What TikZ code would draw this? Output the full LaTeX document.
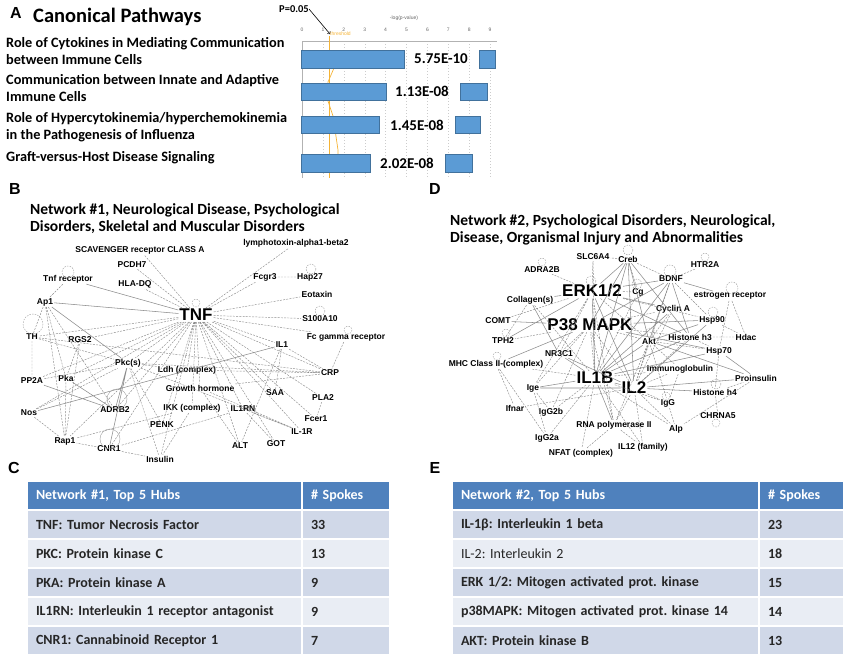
\documentclass[tikz,border=0pt]{standalone}
\usepackage{fontspec}
\setmainfont{Carlito}
\newfontfamily\arialfont{Liberation Sans}
\usetikzlibrary{positioning}
\frenchspacing

\definecolor{barblue}{HTML}{5B9BD5}
\definecolor{barline}{HTML}{41719C}
\definecolor{hdrblue}{HTML}{4F81BD}
\definecolor{rowdark}{HTML}{D0D8E8}
\definecolor{rowlight}{HTML}{E9EDF4}
\definecolor{threshcol}{HTML}{F5B335}
\definecolor{linkgray}{HTML}{8C8C8C}

\tikzset{
  panel/.style={inner sep=0pt, font=\arialfont\bfseries\fontsize{16}{16}\selectfont},
  pathname/.style={anchor=west, align=left, inner sep=0pt, font=\bfseries\fontsize{14.3}{17}\selectfont},
  pvalue/.style={inner sep=0pt, font=\bfseries\fontsize{15}{15}\selectfont},
  bar/.style={fill=barblue, draw=barline, line width=0.6pt},
  tick/.style={inner sep=0pt, text=black!60, font=\arialfont\fontsize{5}{5}\selectfont},
  nettitle/.style={anchor=west, align=left, inner sep=0pt, font=\bfseries\fontsize{15.5}{17}\selectfont},
  gene/.style={inner sep=1pt, font=\arialfont\bfseries\fontsize{8.5}{8.5}\selectfont},
  hub/.style={inner sep=1pt, font=\arialfont\bfseries\fontsize{17}{17}\selectfont},
  link/.style={draw=linkgray, line width=0.45pt, dash pattern=on 2pt off 1.2pt},
  bond/.style={draw=linkgray, line width=0.55pt},
  selfloop/.style={draw=linkgray!80, line width=0.45pt, dash pattern=on 1.5pt off 1.2pt},
  cell/.style={anchor=north west, outer sep=0pt, draw=white, line width=2.5pt, minimum height=29pt, inner xsep=9pt, align=left, font=\bfseries\fontsize{14}{14}\selectfont},
  hdr/.style={cell, fill=hdrblue, text=white},
  rowa/.style={cell, fill=rowdark, text=black!85},
  rowb/.style={cell, fill=rowlight, text=black!85},
}

\begin{document}
\begin{tikzpicture}[x=1pt,y=-1pt]
\useasboundingbox (0,0) rectangle (851,659);

% A: canonical pathways
\node[panel] (labA) at (16,13) {A};
\node[anchor=west, inner sep=0pt, font=\bfseries\fontsize{20.5}{20.5}\selectfont] (cptitle) at (33,17) {Canonical Pathways};
\node[pathname] (pw1) at (6,51.5) {Role of Cytokines in Mediating Communication\\between Immune Cells};
\node[pathname] (pw2) at (6,88) {Communication between Innate and Adaptive\\Immune Cells};
\node[pathname] (pw3) at (6,127.5) {Role of Hypercytokinemia/hyperchemokinemia\\in the Pathogenesis of Influenza};
\node[pathname] (pw4) at (6,158) {Graft-versus-Host Disease Signaling};

\node[tick] (axlab) at (404,18) {-log(p-value)};
\foreach \k in {0,...,9}
  \node[tick] (t\k) at ({302+20.9*\k},30) {\k};
\foreach \k in {1,...,9}
  \draw[black!20, dash pattern=on 1pt off 2pt] ({302+20.9*\k},41) -- ({302+20.9*\k},178);
\draw[black!30] (302,178) -- (302,41) -- (497,41);

\draw[threshcol, line width=0.6pt] (329,36) -- (329,178);
\node[anchor=west, inner sep=0pt, text=threshcol, font=\arialfont\fontsize{5}{5}\selectfont] (thr) at (330,34) {threshold};
\draw[threshcol, line width=0.7pt] (334,68) -- (328,82) -- (327,98) -- (333,116) -- (338,150) -- (338,155);

\node[inner sep=0pt, font=\bfseries\fontsize{10.5}{10.5}\selectfont] (pcut) at (294,9) {P=0.05};
\coordinate (ptip) at (330,34);
\draw[->, line width=0.6pt] (pcut.east) -- (ptip);

\draw[bar] (301,50) rectangle (404,68) (479,50) rectangle (495,68);
\node[pvalue] (pv1) at (441,59) {5.75E-10};
\draw[bar] (301,83) rectangle (386,100) (460,83) rectangle (487,100);
\node[pvalue] (pv2) at (422,91) {1.13E-08};
\draw[bar] (301,116) rectangle (379,133) (455,116) rectangle (480,133);
\node[pvalue] (pv3) at (417,125) {1.45E-08};
\draw[bar] (301,154) rectangle (370,172) (445,154) rectangle (472,172);
\node[pvalue] (pv4) at (407,163) {2.02E-08};

% B: network 1
\node[panel] (labB) at (15,189) {B};
\node[nettitle] (titB) at (30,218.5) {Network \#1, Neurological Disease, Psychological\\Disorders, Skeletal and Muscular Disorders};

\node[gene] (scav) at (140,250) {SCAVENGER receptor CLASS A};
\node[gene] (lymph) at (296,243) {lymphotoxin-alpha1-beta2};
\node[gene] (pcdh) at (132,265) {PCDH7};
\node[gene] (tnfr) at (68,279) {Tnf receptor};
\node[gene] (hla) at (135,284) {HLA-DQ};
\node[gene] (fcgr) at (265,277) {Fcgr3};
\node[gene] (hap) at (310,277) {Hap27};
\node[gene] (eot) at (317,294) {Eotaxin};
\node[gene] (apone) at (45,302) {Ap1};
\node[hub] (tnf) at (196,315) {TNF};
\node[gene] (sten) at (320,319) {S100A10};
\node[gene] (th) at (32,337) {TH};
\node[gene] (rgs) at (80,340) {RGS2};
\node[gene] (fcg) at (346,337) {Fc gamma receptor};
\node[gene] (ilone) at (282,345) {IL1};
\node[gene] (pkc) at (128,363) {Pkc(s)};
\node[gene] (ldh) at (187,370) {Ldh (complex)};
\node[gene] (crp) at (330,373) {CRP};
\node[gene] (pptwo) at (32,381) {PP2A};
\node[gene] (pka) at (66,378) {Pka};
\node[gene] (gh) at (200,388) {Growth hormone};
\node[gene] (saa) at (275,393) {SAA};
\node[gene] (pla) at (323,398) {PLA2};
\node[gene] (nos) at (29,413) {Nos};
\node[gene] (adrb) at (115,410) {ADRB2};
\node[gene] (ikk) at (192,408) {IKK (complex)};
\node[gene] (ilrn) at (243,409) {IL1RN};
\node[gene] (fcer) at (316,419) {Fcer1};
\node[gene] (penk) at (162,425) {PENK};
\node[gene] (ilr) at (302,432) {IL-1R};
\node[gene] (rap) at (65,441) {Rap1};
\node[gene] (cnr) at (109,449) {CNR1};
\node[gene] (alt) at (240,446) {ALT};
\node[gene] (got) at (276,444) {GOT};
\node[gene] (ins) at (160,459) {Insulin};

\draw[link] (tnf) -- (scav) (tnf) -- (lymph) (tnf) -- (pcdh) (tnf) -- (hla)
  (tnf) -- (fcgr) (tnf) -- (eot) (tnf) -- (sten) (tnf) -- (fcg)
  (tnf) -- (th) (tnf) -- (rgs) (tnf) -- (pkc) (tnf) -- (ldh)
  (tnf) -- (gh) (tnf) -- (ikk) (tnf) -- (ilrn) (tnf) -- (penk)
  (tnf) -- (ins) (tnf) -- (cnr) (tnf) -- (adrb) (tnf) -- (pka)
  (tnf) -- (pptwo) (tnf) -- (nos) (tnf) -- (rap) (tnf) -- (ilone)
  (tnf) -- (crp) (tnf) -- (saa) (tnf) -- (pla) (tnf) -- (fcer)
  (tnf) -- (ilr) (tnf) -- (alt) (tnf) -- (got);
\draw[bond] (tnf) -- (tnfr) (tnf) -- (apone);
\draw[link] (fcgr) -- (hap) (tnfr) -- (apone) (apone) -- (th) (apone) -- (adrb)
  (apone) -- (rap) (apone) -- (pka) (th) -- (pptwo) (th) -- (pkc)
  (th) -- (crp) (rgs) -- (pka) (rgs) -- (rap) (pka) -- (rap)
  (pptwo) -- (pkc) (nos) -- (pkc) (nos) -- (rap) (pkc) -- (ins)
  (pkc) -- (ilr) (pkc) -- (crp) (pkc) -- (ldh) (ldh) -- (crp)
  (gh) -- (crp) (gh) -- (ilr) (ilone) -- (crp) (ilone) -- (saa)
  (ilone) -- (alt) (fcg) -- (crp) (pla) -- (fcer) (ikk) -- (ins)
  (ikk) -- (rap) (ilrn) -- (got) (ilrn) -- (ilr) (cnr) -- (rap)
  (cnr) -- (ilrn) (cnr) -- (ins) (penk) -- (pkc) (alt) -- (gh);
\draw[bond] (apone) -- (pkc) (pka) -- (adrb) (pptwo) -- (adrb)
  (pkc) -- (adrb) (pkc) -- (cnr) (nos) -- (ilone);
\draw[selfloop] (68,272) circle[radius=6] (33,324) circle[radius=10]
  (311,269) circle[radius=5] (320,311) circle[radius=5] (348,330) circle[radius=4]
  (196,303) circle[radius=4];
\draw[linkgray!80, line width=0.45pt] (117,399) circle[radius=10] (110,439) circle[radius=10];

% C: table for network 1
\node[panel] (labC) at (14,468) {C};
\node[hdr, text width=257pt] (ch) at (27,481) {Network \#1, Top 5 Hubs};
\node[hdr, text width=70pt, right=0pt of ch] (chn) {\# Spokes};
\node[rowa, text width=257pt, below=0pt of ch] (c1) {TNF: Tumor Necrosis Factor};
\node[rowa, text width=70pt, right=0pt of c1] (c1n) {33};
\node[rowb, text width=257pt, below=0pt of c1] (c2) {PKC: Protein kinase C};
\node[rowb, text width=70pt, right=0pt of c2] (c2n) {13};
\node[rowa, text width=257pt, below=0pt of c2] (c3) {PKA: Protein kinase A};
\node[rowa, text width=70pt, right=0pt of c3] (c3n) {9};
\node[rowb, text width=257pt, below=0pt of c3] (c4) {IL1RN: Interleukin 1 receptor antagonist};
\node[rowb, text width=70pt, right=0pt of c4] (c4n) {9};
\node[rowa, text width=257pt, below=0pt of c4] (c5) {CNR1: Cannabinoid Receptor 1};
\node[rowa, text width=70pt, right=0pt of c5] (c5n) {7};

% D: network 2
\node[panel] (labD) at (435,189) {D};
\node[nettitle] (titD) at (450,229.5) {Network \#2, Psychological Disorders, Neurological,\\Disease, Organismal Injury and Abnormalities};

\node[gene] (slc) at (593,257) {SLC6A4};
\node[gene] (creb) at (628,259) {Creb};
\node[gene] (adra) at (542,270) {ADRA2B};
\node[gene] (htr) at (705,265) {HTR2A};
\node[gene] (bdnf) at (671,279) {BDNF};
\node[hub] (erk) at (592,291) {ERK1/2};
\node[gene] (cg) at (638,292) {Cg};
\node[gene] (coll) at (530,300) {Collagen(s)};
\node[gene] (estr) at (730,296) {estrogen receptor};
\node[gene] (cyc) at (673,309) {Cyclin A};
\node[gene] (comt) at (498,321) {COMT};
\node[hub] (pmapk) at (590,325) {P38 MAPK};
\node[gene] (hspn) at (712,320) {Hsp90};
\node[gene] (hthree) at (690,337) {Histone h3};
\node[gene] (hdac) at (746,337) {Hdac};
\node[gene] (akt) at (649,341) {Akt};
\node[gene] (tph) at (503,341) {TPH2};
\node[gene] (hsps) at (719,351) {Hsp70};
\node[gene] (nr) at (559,354) {NR3C1};
\node[gene] (mhc) at (496,364) {MHC Class II-(complex)};
\node[gene] (immu) at (680,369) {Immunoglobulin};
\node[hub] (ilb) at (595,378) {IL1B};
\node[gene] (proi) at (756,378) {Proinsulin};
\node[hub] (iltwo) at (634,388) {IL2};
\node[gene] (ige) at (533,388) {Ige};
\node[gene] (hfour) at (715,392) {Histone h4};
\node[gene] (igg) at (668,403) {IgG};
\node[gene] (ifnar) at (515,408) {Ifnar};
\node[gene] (iggb) at (551,412) {IgG2b};
\node[gene] (chrna) at (718,416) {CHRNA5};
\node[gene] (rna) at (614,425) {RNA polymerase II};
\node[gene] (alp) at (676,429) {Alp};
\node[gene] (igga) at (547,438) {IgG2a};
\node[gene] (iltw) at (643,447) {IL12 (family)};
\node[gene] (nfat) at (581,453) {NFAT (complex)};

\draw[bond] (ilb) -- (erk) (ilb) -- (creb) (ilb) -- (cyc) (ilb) -- (bdnf)
  (ilb) -- (akt) (ilb) -- (hthree) (ilb) -- (hsps) (ilb) -- (iltwo)
  (ilb) -- (nr) (ilb) -- (ige) (ilb) -- (rna)
  (iltwo) -- (erk) (iltwo) -- (creb) (iltwo) -- (hspn) (iltwo) -- (proi)
  (iltwo) -- (hfour) (iltwo) -- (nr) (iltwo) -- (ige)
  (erk) -- (creb) (erk) -- (bdnf) (erk) -- (coll) (erk) -- (cyc)
  (erk) -- (hthree) (erk) -- (tph)
  (pmapk) -- (creb) (pmapk) -- (bdnf) (pmapk) -- (hspn) (pmapk) -- (hsps)
  (pmapk) -- (comt) (pmapk) -- (mhc)
  (akt) -- (creb) (akt) -- (bdnf) (akt) -- (hspn) (akt) -- (proi)
  (bdnf) -- (estr) (bdnf) -- (hthree) (creb) -- (hthree) (hsps) -- (proi)
  (coll) -- (nr);
\draw[link] (ilb) -- (pmapk) (ilb) -- (slc) (ilb) -- (cg) (ilb) -- (immu)
  (ilb) -- (igg) (ilb) -- (alp) (ilb) -- (iltw) (ilb) -- (nfat)
  (ilb) -- (igga) (ilb) -- (iggb) (ilb) -- (mhc) (ilb) -- (coll)
  (iltwo) -- (pmapk) (iltwo) -- (bdnf) (iltwo) -- (cyc) (iltwo) -- (akt)
  (iltwo) -- (hthree) (iltwo) -- (immu) (iltwo) -- (igg) (iltwo) -- (rna)
  (iltwo) -- (iltw) (iltwo) -- (alp) (iltwo) -- (ifnar)
  (erk) -- (slc) (erk) -- (adra) (erk) -- (cg) (erk) -- (akt)
  (erk) -- (hspn) (erk) -- (nr) (erk) -- (comt) (erk) -- (ige) (erk) -- (rna)
  (pmapk) -- (cyc) (pmapk) -- (akt) (pmapk) -- (nr) (pmapk) -- (ige)
  (pmapk) -- (iggb) (pmapk) -- (rna) (pmapk) -- (hthree) (pmapk) -- (tph)
  (akt) -- (cyc) (akt) -- (hsps) (akt) -- (hthree) (akt) -- (igg)
  (akt) -- (immu) (akt) -- (rna)
  (creb) -- (bdnf) (creb) -- (slc) (creb) -- (cg) (bdnf) -- (htr)
  (bdnf) -- (hspn) (estr) -- (hdac) (estr) -- (hsps) (hspn) -- (hdac)
  (hthree) -- (hdac) (hthree) -- (hsps) (hsps) -- (hfour) (hfour) -- (chrna)
  (hfour) -- (proi) (mhc) -- (igga) (mhc) -- (ifnar) (ige) -- (iggb)
  (ige) -- (igga) (igg) -- (alp) (rna) -- (iltw) (nfat) -- (rna)
  (proi) -- (alp) (immu) -- (igg) (coll) -- (tph);
\draw[selfloop] (542,262) circle[radius=4] (628,250) circle[radius=5]
  (670,271) circle[radius=6] (705,257) circle[radius=4] (732,288) circle[radius=6]
  (713,312) circle[radius=5] (637,284) circle[radius=5] (591,281) circle[radius=5]
  (716,384) circle[radius=5] (497,356) circle[radius=4] (506,333) circle[radius=4]
  (666,396) circle[radius=4] (716,423) circle[radius=4] (650,333) circle[radius=5];

% E: table for network 2
\node[panel] (labE) at (435,468) {E};
\node[hdr, text width=289pt] (eh) at (452,481) {Network \#2, Top 5 Hubs};
\node[hdr, text width=67pt, right=0pt of eh] (ehn) {\# Spokes};
\node[rowa, text width=289pt, below=0pt of eh] (e1) {IL-1β: Interleukin 1 beta};
\node[rowa, text width=67pt, right=0pt of e1] (e1n) {23};
\node[rowb, text width=289pt, below=0pt of e1, font=\fontsize{14}{14}\selectfont] (e2) {IL-2: Interleukin 2};
\node[rowb, text width=67pt, right=0pt of e2] (e2n) {18};
\node[rowa, text width=289pt, below=0pt of e2] (e3) {ERK 1/2: Mitogen activated prot. kinase};
\node[rowa, text width=67pt, right=0pt of e3] (e3n) {15};
\node[rowb, text width=289pt, below=0pt of e3] (e4) {p38MAPK: Mitogen activated prot. kinase 14};
\node[rowb, text width=67pt, right=0pt of e4] (e4n) {14};
\node[rowa, text width=289pt, below=0pt of e4] (e5) {AKT: Protein kinase B};
\node[rowa, text width=67pt, right=0pt of e5] (e5n) {13};
\end{tikzpicture}
\end{document}
